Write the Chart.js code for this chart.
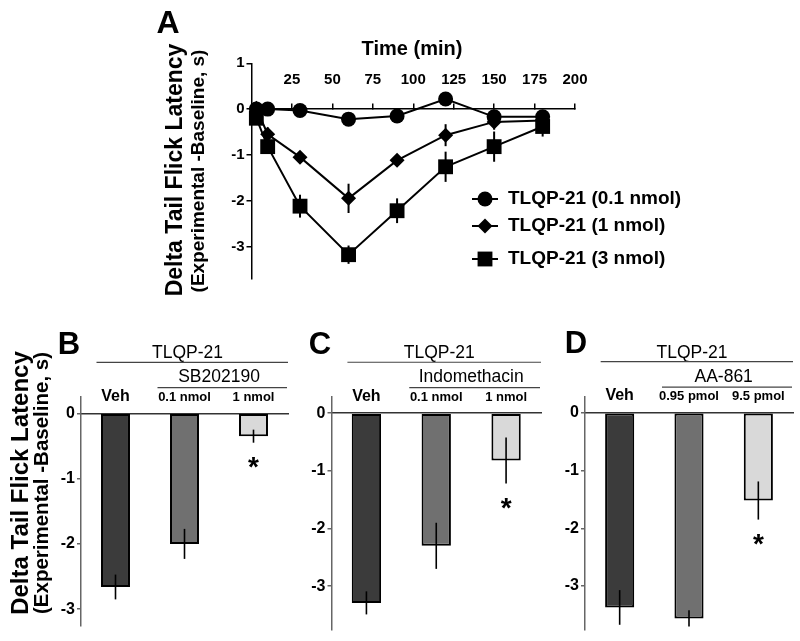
<!DOCTYPE html>
<html><head><meta charset="utf-8">
<script src="https://cdn.jsdelivr.net/npm/chart.js@4.4.1/dist/chart.umd.min.js"></script>
<style>
html,body{margin:0;padding:0;background:#fff;}
#wrap{position:relative;width:800px;height:641px;overflow:hidden;font-family:'Liberation Sans',Arial,Helvetica,sans-serif;color:#000;background:#fff;}
canvas{position:absolute;left:0;top:0;}
.t{position:absolute;white-space:nowrap;line-height:1;font-weight:bold;transform:translate(-50%,-50%);}
.r{transform:translate(-50%,-50%) rotate(-90deg);}
</style></head>
<body><div id="wrap">
<canvas id="cA" width="800" height="641"></canvas>
<canvas id="cB" width="800" height="641"></canvas>
<canvas id="cC" width="800" height="641"></canvas>
<canvas id="cD" width="800" height="641"></canvas>
<div class="t" style="left:168px;top:22px;font-size:32px">A</div>
<div class="t" style="left:412px;top:48px;font-size:20px">Time (min)</div>
<div class="t r" style="left:173.6px;top:170px;font-size:23px">Delta Tail Flick Latency</div>
<div class="t r" style="left:197.3px;top:171px;font-size:19px">(Experimental -Baseline, s)</div>
<div class="t" style="left:69px;top:342.5px;font-size:31px">B</div>
<div class="t" style="left:320px;top:342.5px;font-size:31px">C</div>
<div class="t" style="left:576px;top:342px;font-size:31px">D</div>
<div class="t r" style="left:19.5px;top:483px;font-size:24px">Delta Tail Flick Latency</div>
<div class="t r" style="left:40.9px;top:482.5px;font-size:20.5px">(Experimental -Baseline, s)</div>
</div>
<script>
// ---------- DATA ----------
const timeMin = [3, 10, 30, 60, 90, 120, 150, 180];
const seriesNames = ['TLQP-21 (0.1 nmol)', 'TLQP-21 (1 nmol)', 'TLQP-21 (3 nmol)'];
const tlqp01 = [0, 0, -0.03, -0.22, -0.15, 0.22, -0.17, -0.17];
const tlqp01Err = [0.05, 0.05, 0.05, 0.05, 0.05, 0.15, 0.08, 0.08];
const tlqp1 = [0.02, -0.55, -1.05, -1.95, -1.12, -0.57, -0.28, -0.25];
const tlqp1Err = [0.05, 0.15, 0.08, 0.32, 0.1, 0.24, 0.17, 0.1];
const tlqp3 = [-0.2, -0.82, -2.12, -3.18, -2.22, -1.26, -0.82, -0.38];
const tlqp3Err = [0.1, 0.15, 0.25, 0.2, 0.27, 0.33, 0.33, 0.22];

const groupLabel = 'TLQP-21';
const labelsB = ['Veh', '0.1 nmol', '1 nmol'];
const valuesB = [-2.66, -2.0, -0.35];
const errB = [0.19, 0.23, 0.1];
const starsB = [false, false, true];
const drugB = 'SB202190';

const labelsC = ['Veh', '0.1 nmol', '1 nmol'];
const valuesC = [-3.29, -2.30, -0.82];
const errC = [0.2, 0.4, 0.4];
const starsC = [false, false, true];
const drugC = 'Indomethacin';

const labelsD = ['Veh', '0.95 pmol', '9.5 pmol'];
const valuesD = [-3.37, -3.56, -1.52];
const errD = [0.3, 0.14, 0.33];
const starsD = [false, false, true];
const drugD = 'AA-861';

// ---------- STYLE ----------
const FONT = "'Liberation Sans', Arial, Helvetica, sans-serif";
Chart.defaults.font.family = FONT;
Chart.defaults.color = '#000';
const barColors = ['#3b3b3b', '#707070', '#d9d9d9'];

const errorBars = {
  id: 'errorBars',
  afterDatasetsDraw(chart, args, opts) {
    const ctx = chart.ctx, ys = chart.scales.y;
    chart.data.datasets.forEach((ds, i) => {
      if (!ds.errors) return;
      const meta = chart.getDatasetMeta(i);
      ctx.save();
      ctx.strokeStyle = '#000';
      ctx.lineWidth = opts.width || 1.5;
      meta.data.forEach((el, j) => {
        const raw = ds.data[j];
        const v = (typeof raw === 'object') ? raw.y : raw;
        const e = ds.errors[j];
        ctx.beginPath();
        ctx.moveTo(el.x, ys.getPixelForValue(v + e));
        ctx.lineTo(el.x, ys.getPixelForValue(v - e));
        ctx.stroke();
        if (ds.stars && ds.stars[j]) {
          ctx.fillStyle = '#000';
          ctx.font = 'bold 28px ' + FONT;
          ctx.textAlign = 'center';
          ctx.textBaseline = 'alphabetic';
          ctx.fillText('*', el.x, ys.getPixelForValue(v - e) + 18 + 15);
        }
      });
      ctx.restore();
    });
  }
};

const headers = {
  id: 'headers',
  afterDraw(chart, args, opts) {
    if (!opts || !opts.group) return;
    const xs = chart.scales.x, ys = chart.scales.y, ctx = chart.ctx;
    const c0 = xs.getPixelForValue(0), c1 = xs.getPixelForValue(1), c2 = xs.getPixelForValue(2);
    const y0 = ys.getPixelForValue(0);
    const right = chart.chartArea.right;
    ctx.save();
    ctx.fillStyle = '#000';
    ctx.strokeStyle = '#444';
    ctx.lineWidth = 1.2;
    ctx.font = '17.5px ' + FONT;
    ctx.textAlign = 'center';
    ctx.textBaseline = 'middle';
    ctx.fillText(opts.group, (c0 + c2) / 2 + 3, y0 - 60);
    ctx.beginPath(); ctx.moveTo(c0 - 19, y0 - 51); ctx.lineTo(right, y0 - 51); ctx.stroke();
    ctx.fillText(opts.drug, (c1 + c2) / 2, y0 - 36);
    ctx.beginPath(); ctx.moveTo(c1 - 27, y0 - 25.6); ctx.lineTo(right - 1, y0 - 25.6); ctx.stroke();
    ctx.restore();
  }
};

const lineLegend = {
  id: 'lineLegend',
  afterDraw(chart, args, opts) {
    const ctx = chart.ctx;
    chart.data.datasets.forEach((ds, i) => {
      const y = opts.rows[i];
      const xm = (opts.x0 + opts.x1) / 2;
      ctx.save();
      ctx.strokeStyle = '#000'; ctx.lineWidth = 2;
      ctx.beginPath(); ctx.moveTo(opts.x0, y); ctx.lineTo(opts.x1, y); ctx.stroke();
      ctx.fillStyle = '#000';
      Chart.helpers.drawPoint(ctx, {pointStyle: ds.pointStyle, radius: ds.pointRadius, rotation: 0, borderWidth: 0}, xm, y);
      ctx.font = 'bold 19px ' + FONT;
      ctx.textAlign = 'left'; ctx.textBaseline = 'middle';
      ctx.fillText(ds.label, opts.tx, y);
      ctx.restore();
    });
  }
};

function lineDs(label, vals, errs, style, r) {
  return {
    label, data: timeMin.map((t, i) => ({x: t, y: vals[i]})), errors: errs,
    borderColor: '#000', borderWidth: 2, backgroundColor: '#000',
    pointStyle: style, pointRadius: r, pointBackgroundColor: '#000', pointBorderWidth: 0,
    tension: 0, clip: false
  };
}

new Chart(document.getElementById('cA'), {
  type: 'line',
  data: {datasets: [
    lineDs(seriesNames[0], tlqp01, tlqp01Err, 'circle', 7.5),
    lineDs(seriesNames[1], tlqp1, tlqp1Err, 'rectRot', 7.5),
    lineDs(seriesNames[2], tlqp3, tlqp3Err, 'rect', 10.5)
  ]},
  options: {
    responsive: false, animation: false, events: [],
    layout: {padding: {left: 211.5, top: 63.3, right: 225, bottom: 362.5}},
    plugins: {legend: {display: false}, tooltip: {enabled: false},
      errorBars: {width: 2},
      lineLegend: {rows: [199, 226, 259], x0: 472, x1: 498, tx: 508}},
    scales: {
      x: {type: 'linear', min: 0, max: 200, position: {y: 0},
        ticks: {stepSize: 25, autoSkip: false, maxRotation: 0, padding: -32, color: '#000',
          font: {size: 15, weight: 'bold'}, callback: v => v === 0 ? '' : String(v)},
        grid: {drawOnChartArea: false, tickLength: -6, color: '#000', lineWidth: 1.5},
        border: {color: '#000', width: 1.5}},
      y: {type: 'linear', min: -3.7, max: 1, position: 'left',
        afterFit: s => { s.width = 40; },
        ticks: {stepSize: 1, includeBounds: false, padding: 2, color: '#000', font: {size: 15, weight: 'bold'}},
        grid: {drawOnChartArea: false, tickLength: 5, color: '#000', lineWidth: 1.5},
        border: {color: '#000', width: 1.5}}
    }
  },
  plugins: [errorBars, lineLegend]
});

function barChart(id, labels, vals, errs, stars, drug, ymin, ymax, pad) {
  return new Chart(document.getElementById(id), {
    type: 'bar',
    data: {labels, datasets: [{
      data: vals, errors: errs, stars,
      backgroundColor: barColors, borderColor: '#000', borderWidth: 2, borderSkipped: false,
      barPercentage: 0.42, categoryPercentage: 1
    }]},
    options: {
      responsive: false, animation: false, events: [],
      layout: {padding: pad},
      plugins: {legend: {display: false}, tooltip: {enabled: false},
        errorBars: {width: 1.6}, headers: {group: groupLabel, drug}},
      scales: {
        x: {type: 'category', position: {y: 0}, offset: true,
          ticks: {autoSkip: false, maxRotation: 0, padding: -26, color: '#000',
            font: c => c.index === 0 ? {size: 16, weight: 'bold', lineHeight: 1.15} : {size: 13, weight: 'bold', lineHeight: 1.55}},
          grid: {drawOnChartArea: false, drawTicks: false},
          border: {color: '#333', width: 1.5}},
        y: {type: 'linear', min: ymin, max: ymax, position: 'left',
          afterFit: s => { s.width = 32; },
          ticks: {stepSize: 1, includeBounds: false, padding: 2, color: '#000', font: {size: 16, weight: 'bold'}},
          grid: {drawOnChartArea: false, tickLength: 4, color: '#666', lineWidth: 1.5},
          border: {color: '#666', width: 1.5}}
      }
    },
    plugins: [errorBars, headers]
  });
}

barChart('cB', labelsB, valuesB, errB, starsB, drugB, -3.25, 0.25, {left: 49, top: 397, right: 512, bottom: 15.5});
barChart('cC', labelsC, valuesC, errC, starsC, drugC, -3.75, 0.28, {left: 299.5, top: 397.1, right: 259, bottom: 10.2});
barChart('cD', labelsD, valuesD, errD, starsD, drugD, -3.75, 0.28, {left: 553, top: 396.5, right: 7, bottom: 10.8});
</script>
</body></html>
